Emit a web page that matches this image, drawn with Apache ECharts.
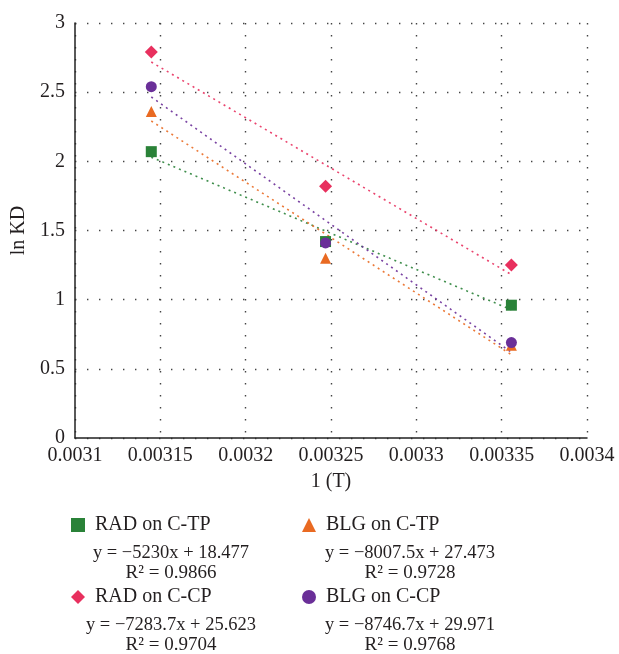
<!DOCTYPE html>
<html>
<head>
<meta charset="utf-8">
<script src="https://cdn.jsdelivr.net/npm/echarts@6/dist/echarts.min.js"></script>
<style>
  html, body { margin: 0; padding: 0; background: #fff; }
  #chart { width: 619px; height: 654px; }
</style>
</head>
<body>
<div id="chart"></div>
<script>
// 1/T values (K^-1) for the three temperatures
const invT = [0.0031447, 0.0032468, 0.0033557];

// ln KD for each sorbate / sorbent pair
const seriesNames = ['RAD on C-TP', 'BLG on C-TP', 'RAD on C-CP', 'BLG on C-CP'];
const radCTP = [2.07, 1.42, 0.96];
const blgCTP = [2.36, 1.30, 0.67];
const radCCP = [2.79, 1.82, 1.25];
const blgCCP = [2.54, 1.41, 0.69];

// Linear fits (y = slope * x + intercept) and their R² values
const slopes = [-5230, -8007.5, -7283.7, -8746.7];
const intercepts = [18.477, 27.473, 25.623, 29.971];
const fitLines = ['y = −5230x + 18.477', 'y = −8007.5x + 27.473', 'y = −7283.7x + 25.623', 'y = −8746.7x + 29.971'];
const r2Lines = ['R² = 0.9866', 'R² = 0.9728', 'R² = 0.9704', 'R² = 0.9768'];

const colors = ['#2a8238', '#e96a22', '#e8305e', '#6a2f98'];
const symbols = ['rect', 'triangle', 'diamond', 'circle'];
const values = [radCTP, blgCTP, radCCP, blgCCP];

const font = '"Liberation Serif", "DejaVu Serif", serif';
const ink = '#231f20';

const fmt = v => String(parseFloat(v.toFixed(6)));

const series = [];
// dotted trend lines from the fitted equations
values.forEach((vals, i) => {
  series.push({
    name: seriesNames[i] + ' fit',
    type: 'line',
    symbol: 'none',
    silent: true,
    z: 2,
    lineStyle: { color: colors[i], width: 1.6, type: [2, 4], opacity: 0.9 },
    data: [invT[0], invT[invT.length - 1]].map(x => [x, slopes[i] * x + intercepts[i]])
  });
});
// measured points
values.forEach((vals, i) => {
  series.push({
    name: seriesNames[i],
    type: 'scatter',
    symbol: symbols[i],
    symbolSize: symbols[i] === 'diamond' ? 13 : 11,
    z: 3,
    itemStyle: { color: colors[i], opacity: 1 },
    data: vals.map((v, k) => [invT[k], v])
  });
});

// legend placement: two columns, two rows
const legendPos = [[71, 515], [302, 515], [71, 587], [302, 587]];
const legends = seriesNames.map((n, i) => ({
  data: [{ name: n, icon: symbols[i] }],
  left: legendPos[i][0],
  top: legendPos[i][1],
  padding: 0,
  itemWidth: 14,
  itemHeight: 14,
  itemGap: 0,
  selectedMode: false,
  textStyle: { fontFamily: font, fontSize: 20, color: ink, padding: [0, 0, 0, 5] }
}));

// equation text beneath each legend entry
const eqCenters = [[171, 553], [410, 553], [171, 625], [410, 625]];
const graphics = [];
seriesNames.forEach((n, i) => {
  graphics.push({
    type: 'text',
    position: [eqCenters[i][0], eqCenters[i][1]],
    style: { text: fitLines[i], font: '18.5px ' + font, fill: ink, align: 'center', verticalAlign: 'middle' }
  });
  graphics.push({
    type: 'text',
    position: [eqCenters[i][0], eqCenters[i][1] + 20],
    style: { text: r2Lines[i], font: '19px ' + font, fill: ink, align: 'center', verticalAlign: 'middle' }
  });
});

const gridLine = { show: true, lineStyle: { color: '#444', width: 1.4, type: [1.4, 10.6] } };

const option = {
  animation: false,
  backgroundColor: '#fff',
  grid: { left: 75, right: 32, top: 23, bottom: 216 },
  legend: legends,
  xAxis: {
    type: 'value',
    min: 0.0031, max: 0.0034, interval: 0.00005,
    name: '1 (T)', nameLocation: 'middle', nameGap: 34,
    nameTextStyle: { fontFamily: font, fontSize: 20, color: ink },
    axisLine: { show: true, onZero: false, lineStyle: { color: '#222', width: 1.5 } },
    axisTick: { show: false },
    axisLabel: { fontFamily: font, fontSize: 20, color: ink, margin: 8, formatter: fmt },
    splitLine: gridLine
  },
  yAxis: {
    type: 'value',
    min: 0, max: 3, interval: 0.5,
    name: 'ln KD', nameLocation: 'middle', nameGap: 46, nameRotate: 90,
    nameTextStyle: { fontFamily: font, fontSize: 20, color: ink },
    axisLine: { show: true, lineStyle: { color: '#222', width: 1.5 } },
    axisTick: { show: false },
    axisLabel: { fontFamily: font, fontSize: 20, color: ink, margin: 10, formatter: fmt },
    splitLine: gridLine
  },
  graphic: graphics,
  series: series
};

echarts.init(document.getElementById('chart'), null, { renderer: 'canvas' }).setOption(option);
</script>
</body>
</html>
